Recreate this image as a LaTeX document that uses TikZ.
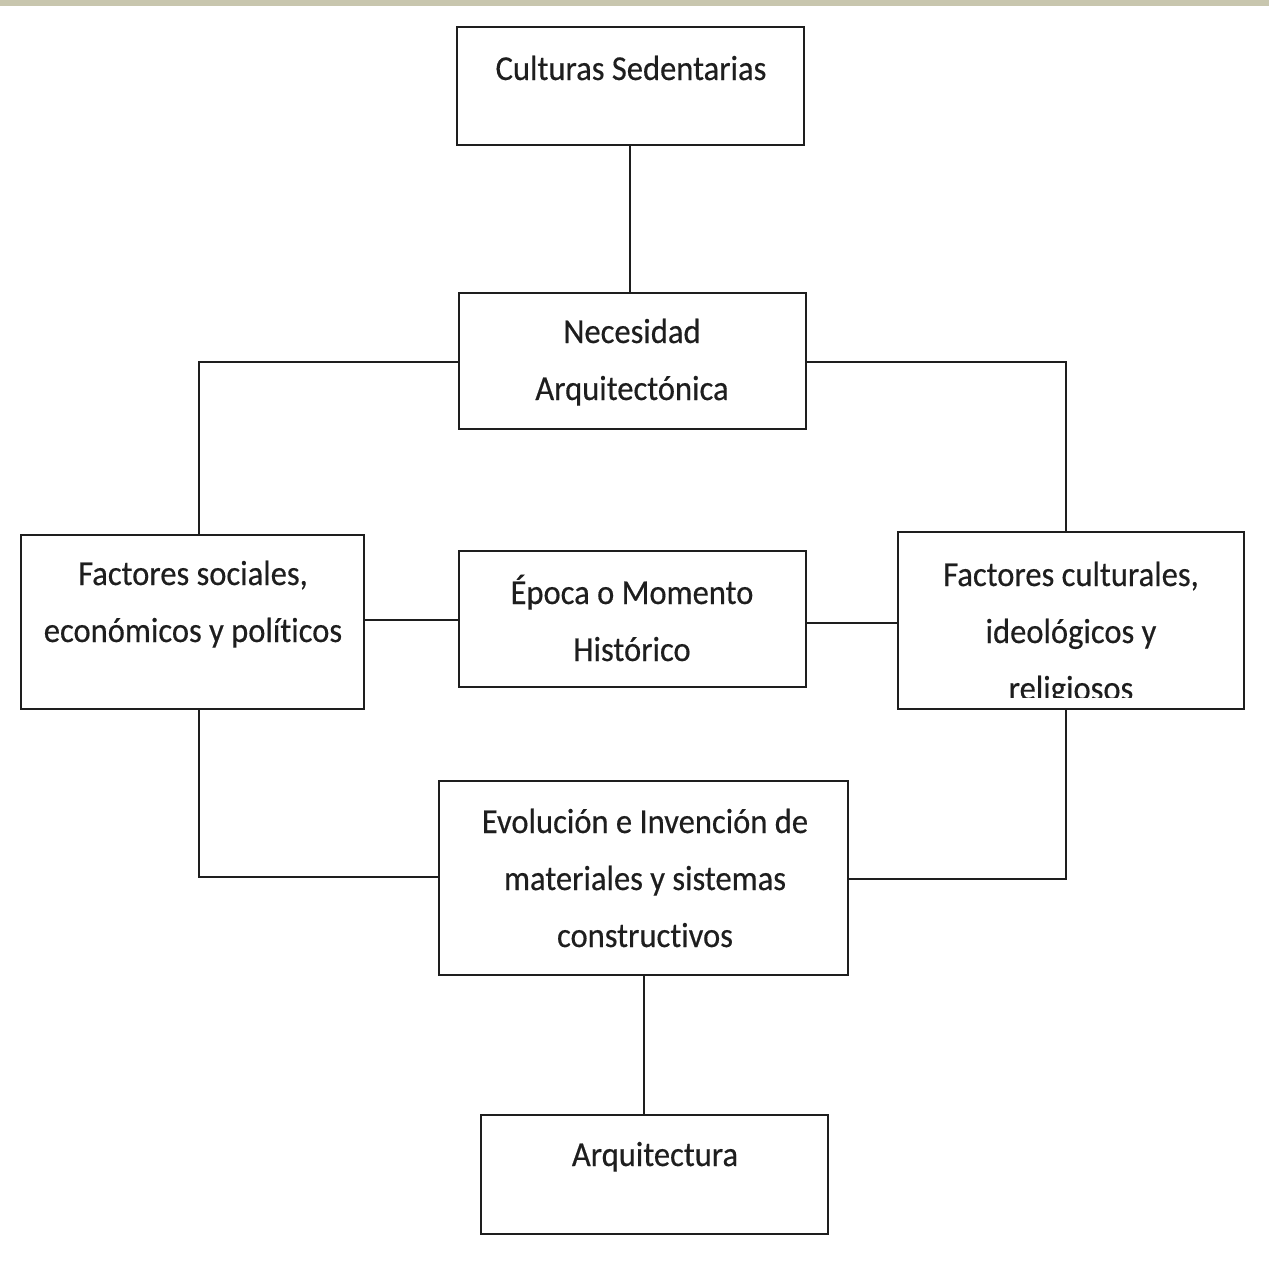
\documentclass[tikz,border=0pt]{standalone}
\usepackage{fontspec}
\setmainfont[FakeStretch=0.93,FakeBold=0.4,Ligatures=NoCommon,RawFeature=-liga]{Carlito}
\definecolor{band}{HTML}{C8C6AE}
\definecolor{ink}{HTML}{1E1E1E}
\begin{document}
\begin{tikzpicture}[x=1pt,y=-1pt,
  boxst/.style={draw=ink,line width=1.9pt,rectangle,inner sep=0pt},
  txt/.style={inner sep=0pt,align=center,anchor=base,text=ink,font=\fontsize{35}{57}\selectfont},
  conn/.style={draw=ink,line width=1.9pt}]
\useasboundingbox (0,0) rectangle (1269,1266);
\fill[band] (0,0) rectangle (1269,6);
% boxes
\node[boxst,minimum width=347pt,minimum height=118pt] (cs) at (630.5,86) {};
\node[boxst,minimum width=347pt,minimum height=136pt] (na) at (632.5,361) {};
\node[boxst,minimum width=343pt,minimum height=174pt] (fs) at (192.5,622) {};
\node[boxst,minimum width=347pt,minimum height=136pt] (ep) at (632.5,619) {};
\node[boxst,minimum width=346pt,minimum height=177pt] (fc) at (1071,620.5) {};
\node[boxst,minimum width=409pt,minimum height=194pt] (ev) at (643.5,878) {};
\node[boxst,minimum width=347pt,minimum height=119pt] (ar) at (654.5,1174.5) {};
% texts (anchor base = baseline of last line)
\node[txt] (tcs) at (631,80) {Culturas Sedentarias};
\node[txt] (tna) at (632,400) {Necesidad\\Arquitectónica};
\node[txt] (tfs) at (193,642) {Factores sociales,\\económicos y políticos};
\node[txt] (tep) at (632,661) {Época o Momento\\Histórico};
\begin{scope}
\clip (899,533) rectangle (1243,697);
\node[txt] (tfc) at (1071,700) {Factores culturales,\\ideológicos y\\religiosos};
\end{scope}
\node[txt] (tev) at (645,947) {Evolución e Invención de\\materiales y sistemas\\constructivos};
\node[txt] (tar) at (655,1166) {Arquitectura};
% connectors
\draw[conn] (cs.south -| 630,0) -- (na.north -| 630,0);
\draw[conn] (na.west |- 0,362) -| (fs.north -| 199,0);
\draw[conn] (na.east |- 0,362) -| (fc.north -| 1066,0);
\draw[conn] (fs.east |- 0,620) -- (ep.west |- 0,620);
\draw[conn] (ep.east |- 0,623) -- (fc.west |- 0,623);
\draw[conn] (fs.south -| 199,0) |- (ev.west |- 0,877);
\draw[conn] (fc.south -| 1066,0) |- (ev.east |- 0,879);
\draw[conn] (ev.south -| 644,0) -- (ar.north -| 644,0);
\end{tikzpicture}
\end{document}
